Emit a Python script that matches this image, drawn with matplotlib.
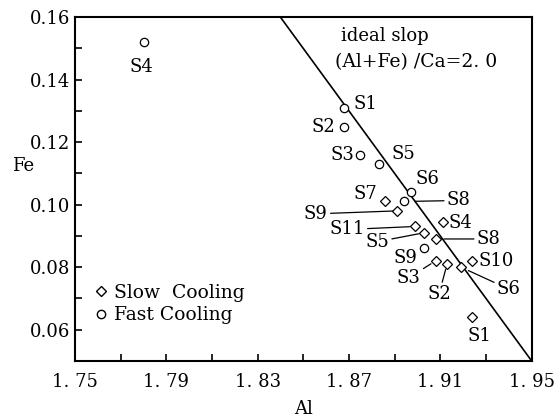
import matplotlib.pyplot as plt
from matplotlib.lines import Line2D

plt.rcParams['font.family'] = ['DejaVu Serif']

# fast cooling points (circles)
fast_names = ['S4', 'S1', 'S2', 'S3', 'S5', 'S6', 'S8', 'S9']
fast_al = [1.780, 1.868, 1.868, 1.875, 1.883, 1.897, 1.894, 1.903]
fast_fe = [0.152, 0.131, 0.125, 0.116, 0.113, 0.104, 0.101, 0.086]

# slow cooling points (diamonds)
slow_names = ['S7', 'S9', 'S11', 'S5', 'S8', 'S4', 'S3', 'S2', 'S6', 'S10', 'S1']
slow_al = [1.886, 1.891, 1.899, 1.903, 1.908, 1.911, 1.908, 1.913, 1.919, 1.924, 1.924]
slow_fe = [0.101, 0.098, 0.093, 0.091, 0.089, 0.0945, 0.082, 0.081, 0.080, 0.082, 0.064]

# ideal line (Al+Fe)/Ca = 2.0
ideal_sum = 2.0
line_al = [1.84, 1.95]

# label offsets in pixels (dx, dy), and leader shrink (0 = no leader)
fast_off = {'S4': (-2, -25, 0), 'S1': (21, 4, 0), 'S2': (-21, 0, 0), 'S3': (-18, 0, 0),
            'S5': (25, 10, 0), 'S6': (17, 13, 0), 'S8': (55, 1, 8), 'S9': (-19, -10, 0)}
slow_off = {'S7': (-20, 7, 0), 'S9': (-81, -3, 3), 'S11': (-68, -3, 4), 'S5': (-47, -9, 4),
            'S8': (53, 0, 6), 'S4': (18, -1, 0), 'S3': (-27, -17, 4), 'S2': (-8, -30, 4),
            'S6': (48, -22, 6), 'S10': (24, 0, 0), 'S1': (7, -19, 0)}

fig = plt.figure(figsize=(5.56, 4.2), dpi=100)
ax = fig.add_axes([0.135, 0.141, 0.821, 0.818])

ax.plot(line_al, [ideal_sum - a for a in line_al], color='black', lw=1.2)
ax.plot(slow_al, slow_fe, 'D', ms=5, mfc='white', mec='black', mew=0.9, ls='none', zorder=3)
ax.plot(fast_al, fast_fe, 'o', ms=6, mfc='white', mec='black', mew=0.9, ls='none', zorder=3)


def label(names, al, fe, offs):
    for n, x, y in zip(names, al, fe):
        dx, dy, lead = offs[n]
        arrow = None
        if lead:
            arrow = dict(arrowstyle='-', color='black', lw=0.9, shrinkA=0, shrinkB=lead)
        ax.annotate(n, (x, y), xytext=(dx, dy), textcoords='offset pixels',
                    ha='center', va='center', fontsize=13, arrowprops=arrow)


label(fast_names, fast_al, fast_fe, fast_off)
label(slow_names, slow_al, slow_fe, slow_off)

ax.text(0.582, 0.945, 'ideal slop', transform=ax.transAxes, fontsize=13, va='center')
ax.text(0.57, 0.87, '(Al+Fe) /Ca=2. 0', transform=ax.transAxes, fontsize=13.5, va='center')

ax.set_xlim(1.75, 1.95)
ax.set_ylim(0.05, 0.16)
ax.set_xticks([1.75, 1.79, 1.83, 1.87, 1.91, 1.95])
ax.set_xticklabels(['1. 75', '1. 79', '1. 83', '1. 87', '1. 91', '1. 95'])
ax.set_xticks([1.77, 1.81, 1.85, 1.89, 1.93], minor=True)
ax.set_yticks([0.06, 0.08, 0.10, 0.12, 0.14, 0.16])
ax.set_yticklabels(['0.06', '0.08', '0.10', '0.12', '0.14', '0.16'])
ax.set_yticks([0.07, 0.09, 0.11, 0.13, 0.15], minor=True)
ax.tick_params(which='both', direction='in', length=5, width=1.2, labelsize=13)
ax.tick_params(axis='x', pad=9)
for s in ax.spines.values():
    s.set_linewidth(1.5)

ax.set_xlabel('Al', fontsize=13, labelpad=6)
ax.set_ylabel('Fe', fontsize=13, rotation=0)
ax.yaxis.set_label_coords(-0.114, 0.541)

handles = [Line2D([], [], marker='D', ms=5, mfc='white', mec='black', ls='none'),
           Line2D([], [], marker='o', ms=6, mfc='white', mec='black', ls='none')]
ax.legend(handles, ['Slow  Cooling', 'Fast Cooling'], loc='lower left', frameon=False,
          fontsize=13.5, handletextpad=0.2, handlelength=1.0, labelspacing=0.25,
          bbox_to_anchor=(0.0, 0.057))

fig.savefig('out.png', dpi=100)
